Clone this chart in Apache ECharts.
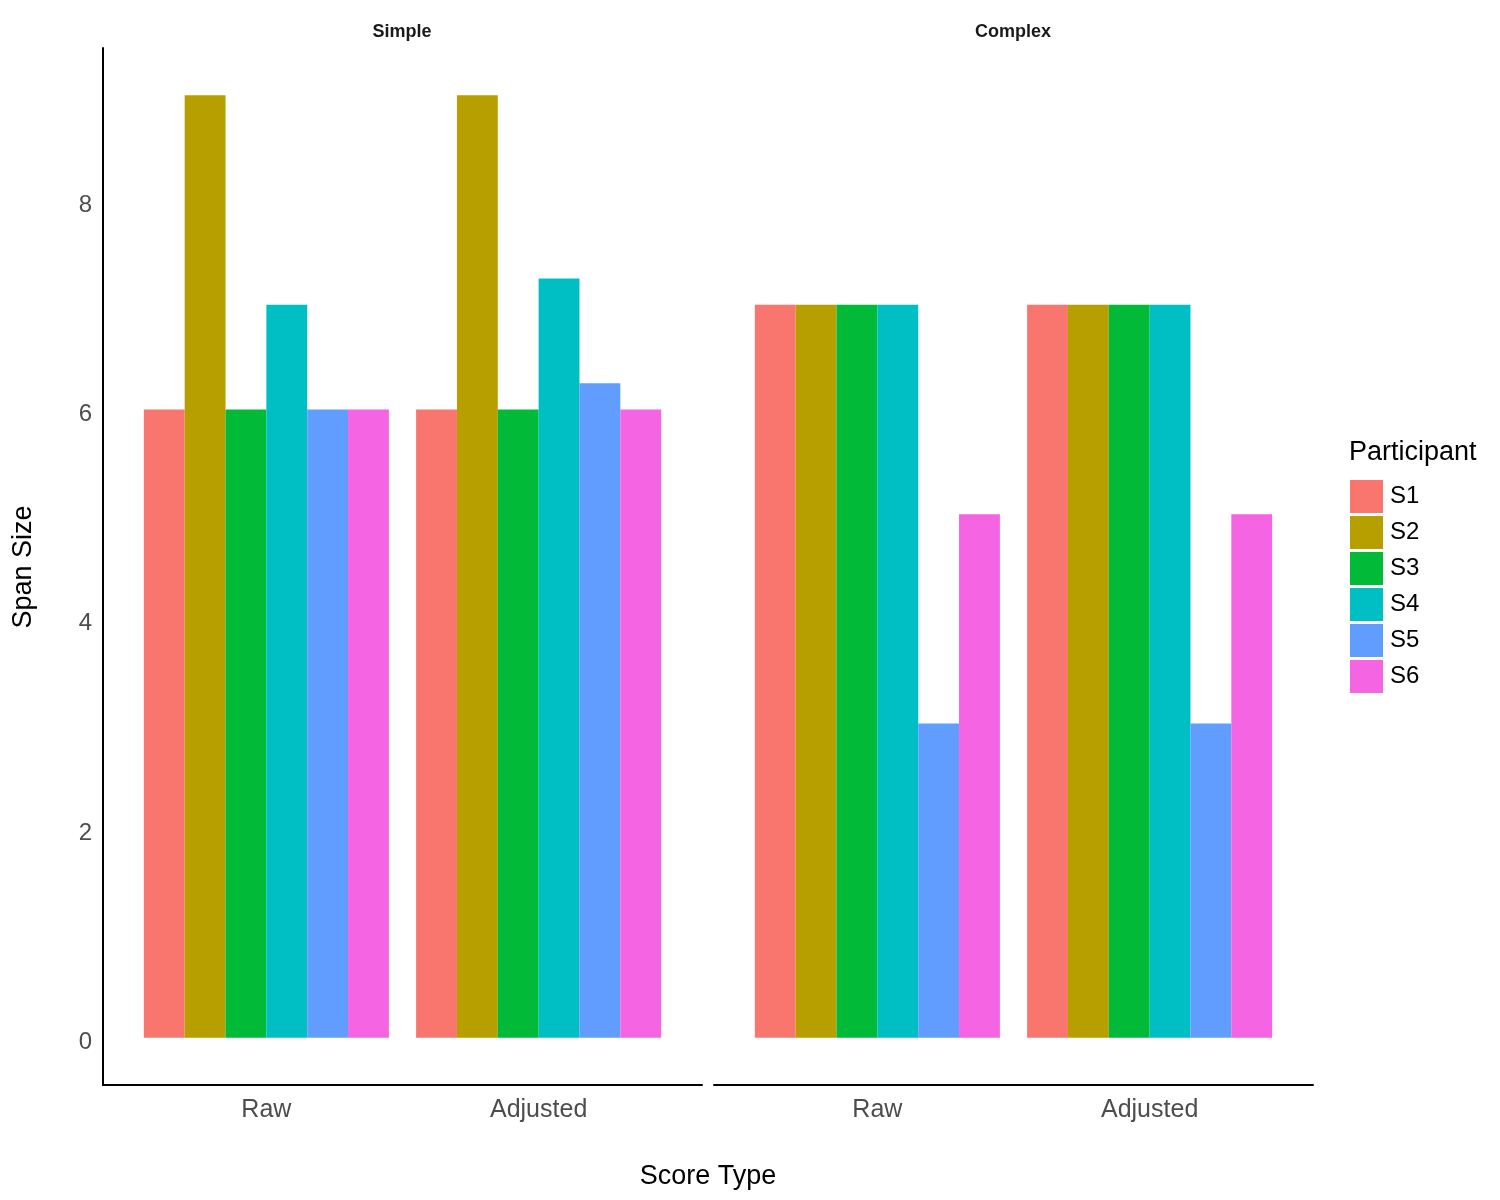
<!DOCTYPE html>
<html>
<head>
<meta charset="utf-8">
<script src="https://cdn.jsdelivr.net/npm/echarts@6/dist/echarts.min.js"></script>
<style>html,body{margin:0;padding:0;background:#fff}#c{width:1500px;height:1200px}</style>
</head>
<body>
<div id="c"></div>
<script>
const scoreTypes = ['Raw', 'Adjusted'];
const participants = ['S1', 'S2', 'S3', 'S4', 'S5', 'S6'];
const panels = ['Simple', 'Complex'];
const simpleRaw = [6, 9, 6, 7, 6, 6];
const simpleAdjusted = [6, 9, 6, 7.25, 6.25, 6];
const complexRaw = [7, 7, 7, 7, 3, 5];
const complexAdjusted = [7, 7, 7, 7, 3, 5];
const yTicks = [0, 2, 4, 6, 8];
const colors = ['#F8766D', '#B79F00', '#00BA38', '#00BFC4', '#619CFF', '#F564E3'];

const FONT = 'Liberation Sans, Arial, sans-serif';
const panelData = [[simpleRaw, simpleAdjusted], [complexRaw, complexAdjusted]];

const grids = [
  {left: 103, width: 599, top: 48, height: 1037},
  {left: 714, width: 599, top: 48, height: 1037}
];

const xAxes = grids.map((g, i) => ({
  type: 'value', gridIndex: i, min: 0.4, max: 2.6,
  axisLine: {show: true, onZero: false, lineStyle: {color: '#000', width: 2}},
  axisTick: {show: false},
  splitLine: {show: false},
  axisLabel: {
    customValues: [1, 2],
    formatter: v => scoreTypes[Math.round(v) - 1] || '',
    fontFamily: FONT, fontSize: 25, color: '#4d4d4d', margin: 13
  }
}));

const yAxes = grids.map((g, i) => ({
  type: 'value', gridIndex: i, min: -0.45, max: 9.45,
  axisLine: {show: i === 0, onZero: false, lineStyle: {color: '#000', width: 2}},
  axisTick: {show: false},
  splitLine: {show: false},
  axisLabel: {
    show: i === 0,
    customValues: yTicks,
    fontFamily: FONT, fontSize: 24, color: '#4d4d4d', margin: 11,
    verticalAlign: 'top', lineHeight: 10
  }
}));

const series = [];
panelData.forEach((pd, gi) => {
  participants.forEach((p, pi) => {
    series.push({
      type: 'bar', name: p,
      xAxisIndex: gi, yAxisIndex: gi,
      barGap: '0%', barCategoryGap: '10%',
      itemStyle: {color: colors[pi], borderWidth: 0},
      data: scoreTypes.map((s, si) => [si + 1, pd[si][pi]])
    });
  });
});

const option = {
  animation: false,
  backgroundColor: '#fff',
  grid: grids,
  xAxis: xAxes,
  yAxis: yAxes,
  legend: {
    data: participants, orient: 'vertical', left: 1350, top: 480, padding: 0,
    itemWidth: 33, itemHeight: 33, itemGap: 3, icon: 'rect',
    textStyle: {fontFamily: FONT, fontSize: 24, color: '#000', padding: [0, 0, 0, 2]},
    selectedMode: false
  },
  graphic: [
    {type: 'text', left: 1349, top: 439, style: {text: 'Participant', font: '27px ' + FONT, fill: '#000'}},
    {type: 'text', x: 708, y: 1177, style: {text: 'Score Type', font: '27px ' + FONT, fill: '#000', align: 'center', verticalAlign: 'middle'}},
    {type: 'text', x: 24, y: 567, rotation: Math.PI / 2, style: {text: 'Span Size', font: '27px ' + FONT, fill: '#000', align: 'center', verticalAlign: 'middle'}},
    {type: 'text', x: 402, y: 32, style: {text: panels[0], font: 'bold 18px ' + FONT, fill: '#1a1a1a', align: 'center', verticalAlign: 'middle'}},
    {type: 'text', x: 1013, y: 32, style: {text: panels[1], font: 'bold 18px ' + FONT, fill: '#1a1a1a', align: 'center', verticalAlign: 'middle'}}
  ],
  series: series
};

const chart = echarts.init(document.getElementById('c'), null, {renderer: 'canvas'});
chart.setOption(option);
</script>
</body>
</html>
